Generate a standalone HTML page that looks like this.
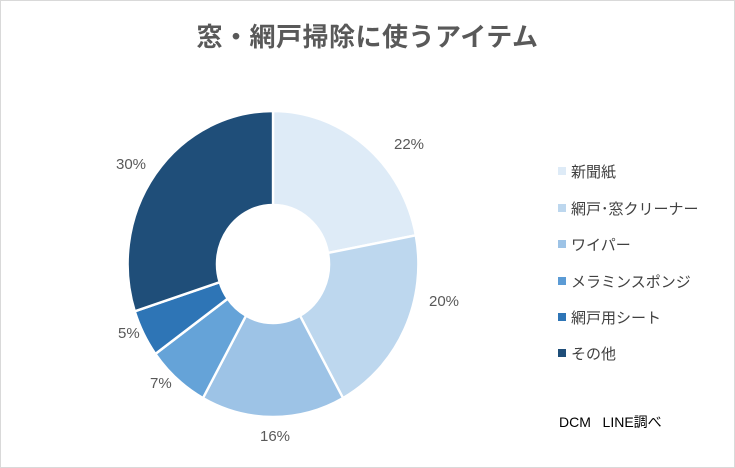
<!DOCTYPE html>
<html><head><meta charset="utf-8"><style>
html,body{margin:0;padding:0;background:#fff}
.wrap{position:relative;width:733px;height:466px;border:1px solid #d9d9d9;font-family:"Liberation Sans","Noto Sans CJK JP",sans-serif;overflow:hidden}
.t{position:absolute;left:0;right:0;top:16px;text-align:center;font-size:26px;font-weight:bold;color:#595959;letter-spacing:0.5px}
.lg{position:absolute;left:557px;font-size:15px;color:#404040;line-height:18px}
.lg i{display:inline-block;width:8px;height:8px;margin-right:5px;vertical-align:2px}
.lb{position:absolute;font-size:15px;color:#595959}
</style></head><body><div class="wrap">
<div class="t">窓・網戸掃除に使うアイテム</div>
<svg width="735" height="468" style="position:absolute;left:-1px;top:-1px">
<g id="pie" transform="translate(273,264) scale(0.95,1)"></g>
</svg>
<div class="lb" style="left:393px;top:135px">22%</div>
<div class="lb" style="left:428px;top:292px">20%</div>
<div class="lb" style="left:259px;top:427px">16%</div>
<div class="lb" style="left:149px;top:374px">7%</div>
<div class="lb" style="left:117px;top:324px">5%</div>
<div class="lb" style="left:115px;top:155px">30%</div>
<div class="lg" style="top:163px"><i style="background:#DEEBF7"></i>新聞紙</div>
<div class="lg" style="top:200px"><i style="background:#BDD7EE"></i>網戸･窓クリーナー</div>
<div class="lg" style="top:236px"><i style="background:#9DC3E6"></i>ワイパー</div>
<div class="lg" style="top:273px"><i style="background:#5B9BD5"></i>メラミンスポンジ</div>
<div class="lg" style="top:309px"><i style="background:#2E75B6"></i>網戸用シート</div>
<div class="lg" style="top:345px"><i style="background:#1F4E79"></i>その他</div>
<div class="lg" style="top:412px;left:558px;font-size:14px;color:#000">DCM&nbsp;&nbsp;&nbsp;LINE調べ</div>
</div>
<script>
var v=[22,20,16,7,5,30],c=["#DEEBF7","#BDD7EE","#9DC3E6","#65A3D8","#2E75B6","#1F4E79"];
var cx=0,cy=0,R=153,r=59,a=0,s="";
function p(rad,ang){return [cx+rad*Math.sin(ang),cy-rad*Math.cos(ang)];}
for(var i=0;i<6;i++){var a0=a/100*2*Math.PI;a+=v[i];var a1=a/100*2*Math.PI;var L=(a1-a0)>Math.PI?1:0;
var A=p(R,a0),B=p(R,a1),C=p(r,a1),D=p(r,a0);
s+='<path d="M'+A+' A'+R+' '+R+' 0 '+L+' 1 '+B+' L'+C+' A'+r+' '+r+' 0 '+L+' 0 '+D+' Z" fill="'+c[i]+'" stroke="#fff" stroke-width="2.5"/>';}
document.getElementById("pie").innerHTML=s;
</script>
</body></html>
